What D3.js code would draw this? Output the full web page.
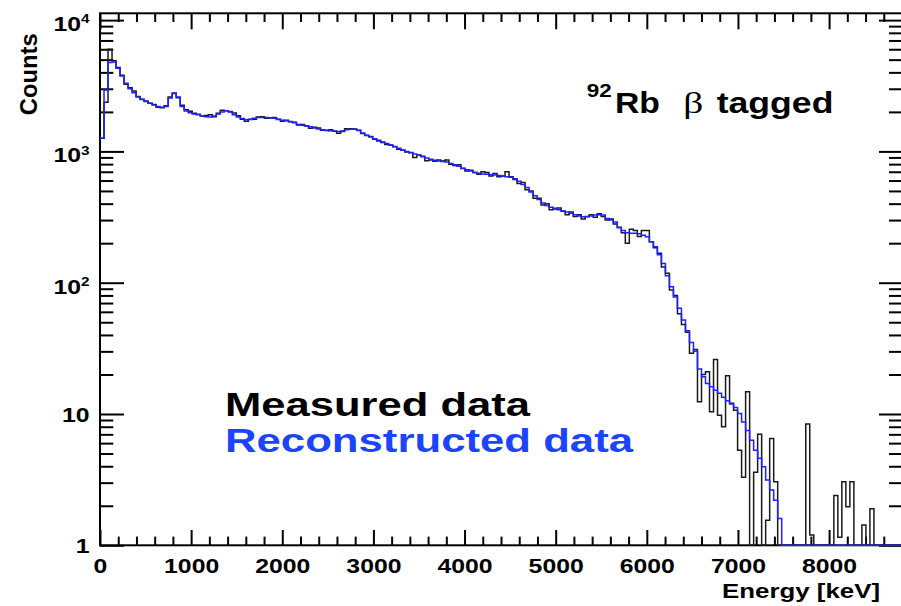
<!DOCTYPE html>
<html>
<head>
<meta charset="utf-8">
<script src="https://cdn.jsdelivr.net/npm/d3@7"></script>
<style>
  html, body { margin: 0; padding: 0; background: #fff; }
  svg { display: block; }
</style>
</head>
<body>
<svg id="chart" width="901" height="606"></svg>
<script>
// Energy spectrum, 200 bins of 44 keV from 0 to 8800 keV
const energyRange = [0, 8800];
const binWidthKeV = 44;
const countRange = [1, 11270];

const xTickValues = [0, 1000, 2000, 3000, 4000, 5000, 6000, 7000, 8000];
const xTickLabels = ["0", "1000", "2000", "3000", "4000", "5000", "6000", "7000", "8000"];
const yTickValues = [1, 10, 100, 1000, 10000];
const yTickBase = ["1", "10", "10", "10", "10"];
const yTickExp = ["", "", "2", "3", "4"];

const seriesNames = ["Measured data", "Reconstructed data"];
const titleParts = ["92", "Rb", "\u03b2", "tagged"];

// measured counts per bin
const measured = [
  1260, 2370, 5990, 4900, 4350, 3800, 3250, 3050, 2880, 2620,
  2480, 2400, 2330, 2280, 2170, 2150, 2230, 2600, 2760, 2560,
  2250, 2080, 2020, 1950, 1920, 1860, 1880, 1900, 1840, 1950,
  2060, 2040, 2010, 1960, 1870, 1760, 1700, 1750, 1760, 1830,
  1840, 1790, 1800, 1810, 1760, 1700, 1730, 1680, 1670, 1590,
  1600, 1570, 1500, 1530, 1510, 1450, 1440, 1460, 1430, 1375,
  1420, 1490, 1490, 1480, 1450, 1370, 1320, 1300, 1240, 1200,
  1170, 1130, 1120, 1090, 1040, 1020, 990, 980, 900, 940,
  920, 850, 860, 840, 860, 845, 860, 800, 780, 790,
  740, 710, 720, 690, 670, 700, 690, 650, 680, 640,
  650, 700, 640, 610, 570, 580, 510, 500, 440, 440,
  390, 400, 360, 365, 370, 350, 330, 345, 320, 330,
  305, 320, 330, 315, 335, 320, 300, 305, 280, 265,
  240, 200, 255, 250, 225, 250, 250, 205, 185, 168,
  132, 118, 88, 80, 58, 48, 42, 29, 31, 12.4,
  20, 21, 10.4, 26, 9.8, 8.0, 19.6, 12.1, 10.7, 5.3,
  3.3, 14.8, 0, 3.6, 7.0, 0, 1.55, 6.5, 3.05, 0,
  0, 0, 0, 0, 0, 0, 8.4, 1.2, 0, 0,
  0, 0, 0, 2.4, 1.15, 3.05, 1.97, 3.05, 0, 0,
  1.43, 0, 1.9, 0, 0, 0, 0, 0, 0, 0
];

// reconstructed counts per bin
const reconstructed = [
  1260, 2940, 4750, 4800, 4300, 3750, 3300, 3000, 2800, 2600,
  2500, 2420, 2330, 2260, 2200, 2170, 2200, 2550, 2780, 2600,
  2200, 2030, 1970, 1930, 1900, 1870, 1840, 1830, 1860, 1930,
  2000, 2040, 2000, 1900, 1830, 1780, 1740, 1760, 1790, 1810,
  1815, 1815, 1800, 1785, 1750, 1730, 1715, 1690, 1650, 1600,
  1580, 1560, 1540, 1510, 1480, 1465, 1450, 1435, 1425, 1415,
  1430, 1460, 1475, 1475, 1440, 1380, 1330, 1290, 1250, 1215,
  1180, 1150, 1115, 1085, 1055, 1025, 1000, 975, 955, 935,
  910, 890, 870, 855, 845, 838, 830, 810, 790, 770,
  745, 725, 708, 692, 682, 674, 669, 665, 661, 655,
  646, 640, 636, 620, 592, 560, 530, 490, 460, 430,
  405, 388, 375, 369, 360, 352, 345, 338, 330, 322,
  318, 318, 322, 328, 330, 328, 309, 300, 290, 262,
  250, 240, 238, 238, 236, 230, 224, 205, 188, 163,
  140, 113, 93, 78, 64, 52, 43, 35, 30, 22,
  19.2, 17.1, 16.1, 15.2, 14.4, 13.4, 12.6, 11.9, 11.2, 10.1,
  8.7, 7.5, 6.3, 5.3, 4.6, 3.97, 3.14, 2.64, 2.2, 1.6,
  0, 0, 0, 0, 0, 0, 0, 0, 0, 0,
  0, 0, 0, 0, 0, 0, 0, 0, 0, 0,
  0, 0, 0, 0, 0, 0, 0, 0, 0, 0
];

const FONT = "'Liberation Sans', Arial, Helvetica, sans-serif";
const STRETCH = 1.18;   // wide lettering of the figure
const frame = { left: 100, right: 902, top: 13.3, bottom: 545.3 };

const svg = d3.select("#chart");
svg.append("rect").attr("width", 901).attr("height", 606).attr("fill", "#fff");

const x = d3.scaleLinear().domain(energyRange).range([frame.left, frame.right]);
const y = d3.scaleLog().domain(countRange).range([frame.bottom, frame.top]).clamp(true);

function widen(sel, k) {
  sel.each(function () {
    const w = this.getComputedTextLength();
    d3.select(this).attr("textLength", w * k).attr("lengthAdjust", "spacingAndGlyphs");
  });
}

// tick positions
const xMinor = d3.range(energyRange[0], energyRange[1] + 1, 200).filter(v => v % 1000 !== 0);
const yMinor = [];
[1, 10, 100, 1000].forEach(d => { for (let m = 2; m <= 9; m++) yMinor.push(d * m); });

function styleAxis(g) {
  g.select(".domain").remove();
  g.selectAll(".tick line").attr("stroke", "#000").attr("stroke-width", 2);
  g.selectAll("text").attr("font-family", FONT).attr("font-weight", "bold")
    .attr("font-size", 21).attr("fill", "#000");
}

// bottom axis with labels
const gB = svg.append("g").attr("transform", `translate(0,${frame.bottom})`)
  .call(d3.axisBottom(x).tickValues(xTickValues).tickSize(-15.3).tickPadding(13)
    .tickFormat((d, i) => xTickLabels[i]));
styleAxis(gB);
widen(gB.selectAll("text"), STRETCH);
svg.append("g").attr("transform", `translate(0,${frame.bottom})`)
  .call(d3.axisBottom(x).tickValues(xMinor).tickSize(-8.7).tickFormat(""))
  .call(styleAxis);

// top mirrored ticks
svg.append("g").attr("transform", `translate(0,${frame.top})`)
  .call(d3.axisTop(x).tickValues(xTickValues).tickSize(-16).tickFormat(""))
  .call(styleAxis);
svg.append("g").attr("transform", `translate(0,${frame.top})`)
  .call(d3.axisTop(x).tickValues(xMinor).tickSize(-8.7).tickFormat(""))
  .call(styleAxis);

// left axis with power-of-ten labels
const gL = svg.append("g").attr("transform", `translate(${frame.left},0)`)
  .call(d3.axisLeft(y).tickValues(yTickValues).tickSize(-24).tickPadding(10.5).tickFormat(""));
styleAxis(gL);
gL.selectAll(".tick text").each(function (d, i) {
  const t = d3.select(this).text(null).attr("dy", i >= 2 ? "0.5em" : "0.34em");
  t.append("tspan").text(yTickBase[i]);
  if (yTickExp[i]) {
    t.append("tspan").attr("dy", -7.7).attr("font-size", 13).text(yTickExp[i]);
  }
});
widen(gL.selectAll(".tick text"), STRETCH);
svg.append("g").attr("transform", `translate(${frame.left},0)`)
  .call(d3.axisLeft(y).tickValues(yMinor).tickSize(-13.3).tickFormat(""))
  .call(styleAxis);

// right mirrored ticks
svg.append("g").attr("transform", `translate(${frame.right},0)`)
  .call(d3.axisRight(y).tickValues(yTickValues).tickSize(-23).tickFormat(""))
  .call(styleAxis);
svg.append("g").attr("transform", `translate(${frame.right},0)`)
  .call(d3.axisRight(y).tickValues(yMinor).tickSize(-13).tickFormat(""))
  .call(styleAxis);

// frame
svg.append("rect")
  .attr("x", frame.left).attr("y", frame.top)
  .attr("width", frame.right - frame.left).attr("height", frame.bottom - frame.top)
  .attr("fill", "none").attr("stroke", "#000").attr("stroke-width", 2);

// step histograms
function stepPoints(values) {
  const pts = values.map((v, i) => [i * binWidthKeV, v]);
  pts.push([values.length * binWidthKeV, values[values.length - 1]]);
  return pts;
}
const step = d3.line()
  .curve(d3.curveStepAfter)
  .x(d => x(d[0]))
  .y(d => y(Math.max(d[1], countRange[0])));

svg.append("path").datum(stepPoints(measured))
  .attr("d", step).attr("fill", "none")
  .attr("stroke", "#1a1a1a").attr("stroke-width", 1.5);
svg.append("path").datum(stepPoints(reconstructed))
  .attr("d", step).attr("fill", "none")
  .attr("stroke", "#1f1fff").attr("stroke-width", 1.5);

// axis titles
svg.append("text")
  .attr("x", 880).attr("y", 598.3).attr("text-anchor", "end")
  .attr("font-family", FONT).attr("font-weight", "bold").attr("font-size", 21)
  .attr("textLength", 158).attr("lengthAdjust", "spacingAndGlyphs")
  .text("Energy [keV]");
svg.append("text")
  .attr("transform", "translate(36.7,33.3) rotate(-90)").attr("text-anchor", "end")
  .attr("font-family", FONT).attr("font-weight", "bold").attr("font-size", 23)
  .attr("textLength", 82).attr("lengthAdjust", "spacingAndGlyphs")
  .text("Counts");

// title: isotope and tag
const title = svg.append("g").attr("font-family", FONT).attr("fill", "#000");
title.append("text").attr("x", 586.7).attr("y", 96.7)
  .attr("font-weight", "bold").attr("font-size", 18)
  .attr("textLength", 25).attr("lengthAdjust", "spacingAndGlyphs").text(titleParts[0]);
title.append("text").attr("x", 615).attr("y", 113.3)
  .attr("font-weight", "bold").attr("font-size", 30)
  .attr("textLength", 45).attr("lengthAdjust", "spacingAndGlyphs").text(titleParts[1]);
title.append("text").attr("x", 683.3).attr("y", 113.3)
  .attr("font-family", "'Liberation Serif', 'DejaVu Serif', serif").attr("font-size", 30)
  .attr("textLength", 20).attr("lengthAdjust", "spacingAndGlyphs").text(titleParts[2]);
title.append("text").attr("x", 716.7).attr("y", 113.3)
  .attr("font-weight", "bold").attr("font-size", 30)
  .attr("textLength", 116.7).attr("lengthAdjust", "spacingAndGlyphs").text(titleParts[3]);

// legend
const legend = svg.append("g").attr("font-family", FONT).attr("font-weight", "bold").attr("font-size", 34);
legend.append("text").attr("x", 225).attr("y", 416).attr("fill", "#000")
  .attr("textLength", 305).attr("lengthAdjust", "spacingAndGlyphs").text(seriesNames[0]);
legend.append("text").attr("x", 225).attr("y", 452).attr("fill", "#1a44ff")
  .attr("textLength", 408).attr("lengthAdjust", "spacingAndGlyphs").text(seriesNames[1]);
</script>
</body>
</html>
